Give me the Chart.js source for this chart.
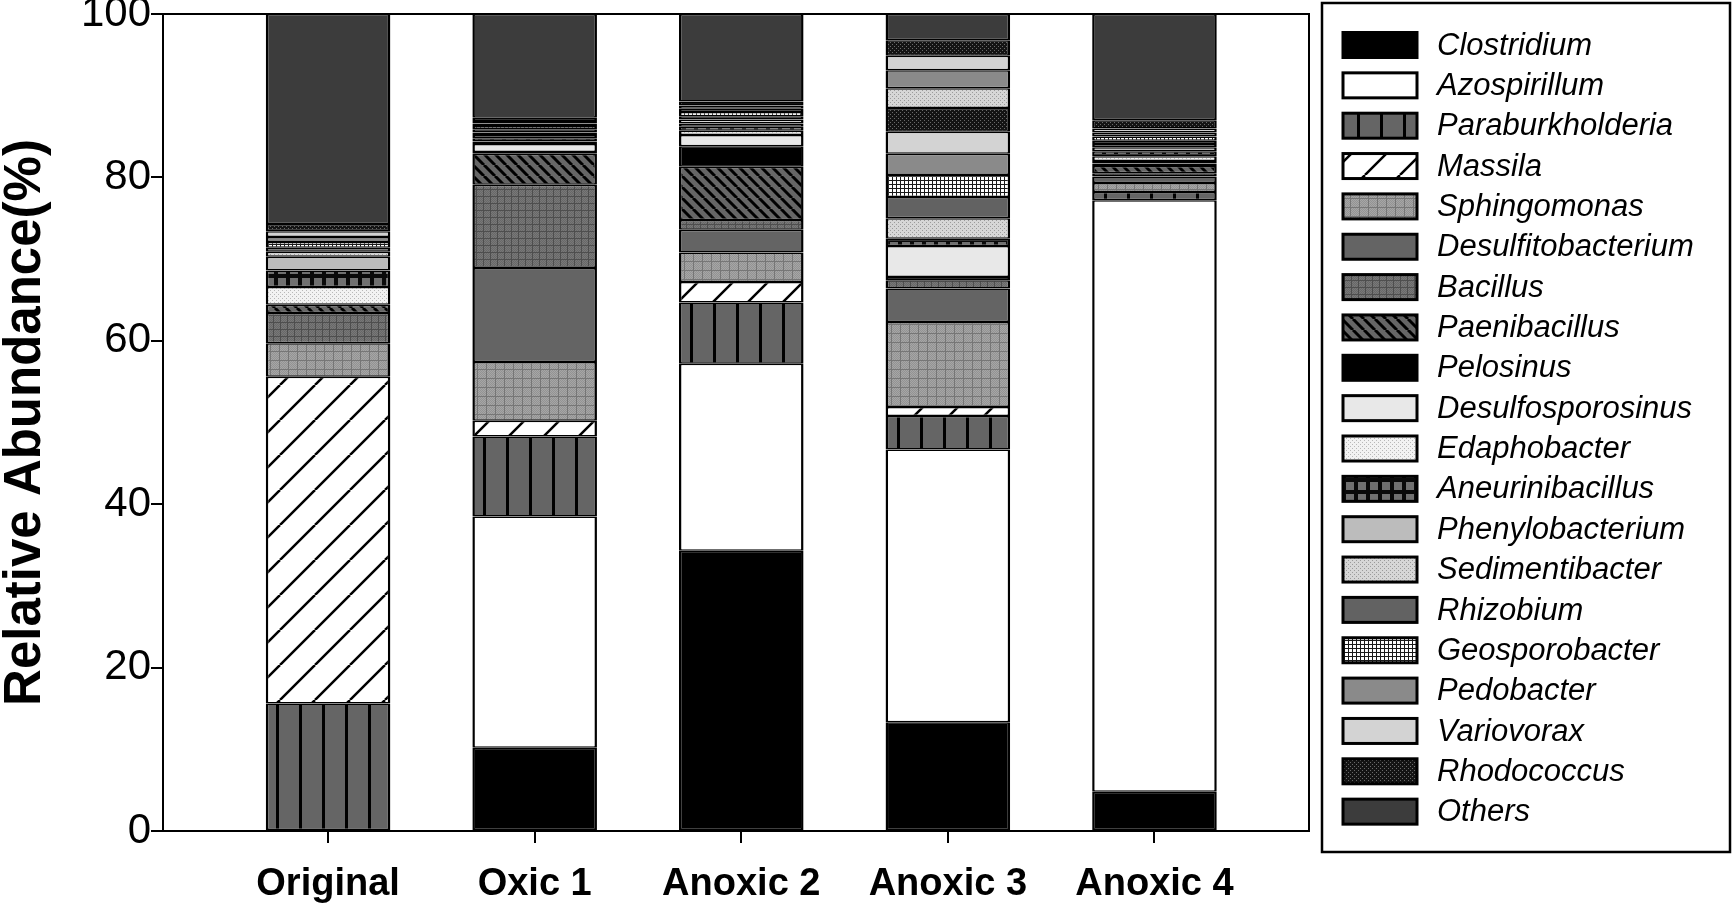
<!DOCTYPE html>
<html>
<head>
<meta charset="utf-8">
<script src="https://cdn.jsdelivr.net/npm/chart.js@4.4.1/dist/chart.umd.min.js"></script>
<style>
    html, body { margin: 0; padding: 0; background: #ffffff; }
</style>
</head>
<body>
<canvas id="graficoAbundancia" width="1732" height="904"></canvas>
<script>
// ==========================================
// 1. DATA (relative abundance, %)
// ==========================================

const samples = ["Original", "Oxic 1", "Anoxic 2", "Anoxic 3", "Anoxic 4"];
const samplePos = [1, 2, 3, 4, 5];
const yTickValues = [0, 20, 40, 60, 80, 100];

const clostridium = [0, 10.2, 34.3, 13.3, 4.8];
const azospirillum = [0, 28.3, 22.9, 33.4, 72.4];
const paraburkholderia = [15.6, 9.8, 7.5, 4.1, 1.0];
const massila = [40.0, 1.9, 2.5, 1.1, 0];
const sphingomonas = [4.1, 7.2, 3.6, 10.4, 1.1];
const desulfitobacterium = [0, 11.5, 2.8, 4.1, 0.8];
const bacillus = [3.7, 10.2, 1.2, 1.0, 0.4];
const paenibacillus = [1.0, 3.8, 6.5, 0, 0.9];
const pelosinus = [0, 0.2, 2.5, 0.4, 0.3];
const desulfosporosinus = [0, 1.0, 1.4, 3.8, 0.3];
const edaphobacter = [2.2, 0.3, 0.5, 0, 0.6];
const aneurinibacillus = [2.0, 0.4, 0.5, 0.9, 0.6];
const phenylobacterium = [1.7, 0.4, 0.4, 0, 0.5];
const sedimentibacter = [0.6, 0.3, 0.5, 2.5, 0.4];
const rhizobium = [0.5, 0.4, 0.4, 2.6, 0.4];
const geosporobacter = [0.7, 0.4, 0.5, 2.7, 0.5];
const pedobacter = [0.6, 0.3, 0.4, 2.6, 0.5];
const variovorax = [0.7, 0.3, 0.4, 2.7, 0.5];
const rhodococcus = [0.9, 0.4, 0.5, 2.9, 1.0];
// minor genera drawn in the bars but not named in the legend
const minorA = [0, 0, 0, 2.4, 0];
const minorB = [0, 0, 0, 2.2, 0];
const minorC = [0, 0, 0, 1.8, 0];
const minorD = [0, 0, 0, 1.9, 0];
const others = [25.7, 12.7, 10.7, 3.2, 13.0];

// ==========================================
// 2. FILL PATTERNS (greyscale, SigmaPlot style)
// ==========================================

function tile(w, h, draw) {
    const c = document.createElement("canvas");
    c.width = w;
    c.height = h;
    const g = c.getContext("2d");
    draw(g, w, h);
    return g.createPattern(c, "repeat");
}

function dots(bg, fg, n) {
    return tile(n, n, (g) => {
        g.fillStyle = bg;
        g.fillRect(0, 0, n, n);
        g.fillStyle = fg;
        g.fillRect(0, 0, 1, 1);
        g.fillRect(n / 2, n / 2, 1, 1);
    });
}

function plaid(bg, speck, line, n) {
    return tile(n, n, (g) => {
        g.fillStyle = bg;
        g.fillRect(0, 0, n, n);
        g.fillStyle = speck;
        for (let x = 0; x < n; x++) {
            for (let y = 0; y < n; y++) {
                if ((x + y) % 2 === 0) g.fillRect(x, y, 1, 1);
            }
        }
        g.fillStyle = line;
        g.fillRect(0, 0, 1, n);
        g.fillRect(0, 0, n, 1);
    });
}

function diagonal(bg, n, lw, rising) {
    return tile(n, n, (g) => {
        g.fillStyle = bg;
        g.fillRect(0, 0, n, n);
        g.strokeStyle = "#000000";
        g.lineWidth = lw;
        g.beginPath();
        [-n, 0, n].forEach((o) => {
            if (rising) {
                g.moveTo(o, n);
                g.lineTo(o + n, 0);
            } else {
                g.moveTo(o, 0);
                g.lineTo(o + n, n);
            }
        });
        g.stroke();
    });
}

const fillVertLines = tile(23, 4, (g) => {
    g.fillStyle = "#656565";
    g.fillRect(0, 0, 23, 4);
    g.fillStyle = "#000000";
    g.fillRect(0, 0, 3, 4);
});

const fillSquares = tile(12, 12, (g) => {
    g.fillStyle = "#0a0a0a";
    g.fillRect(0, 0, 12, 12);
    g.fillStyle = "#707070";
    g.fillRect(2, 2, 8, 8);
});

const fillGraph = tile(4, 4, (g) => {
    g.fillStyle = "#ffffff";
    g.fillRect(0, 0, 4, 4);
    g.fillStyle = "#1a1a1a";
    g.fillRect(0, 0, 4, 1);
    g.fillRect(0, 0, 1, 4);
});

const fillSedim = dots("#d6d6d6", "#9a9a9a", 4);
const fillRhodo = dots("#141414", "#6a6a6a", 4);

// [name, values, fill, shown in legend]
const seriesDefs = [
    ["Clostridium", clostridium, "#000000", true],
    ["Azospirillum", azospirillum, "#ffffff", true],
    ["Paraburkholderia", paraburkholderia, fillVertLines, true],
    ["Massila", massila, diagonal("#ffffff", 35, 2.5, true), true],
    ["Sphingomonas", sphingomonas, plaid("#a6a6a6", "#939393", "#767676", 9), true],
    ["Desulfitobacterium", desulfitobacterium, "#646464", true],
    ["Bacillus", bacillus, plaid("#787878", "#686868", "#4e4e4e", 7), true],
    ["Paenibacillus", paenibacillus, diagonal("#666666", 11, 3, false), true],
    ["Pelosinus", pelosinus, "#000000", true],
    ["Desulfosporosinus", desulfosporosinus, "#e8e8e8", true],
    ["Edaphobacter", edaphobacter, dots("#f2f2f2", "#b8b8b8", 4), true],
    ["Aneurinibacillus", aneurinibacillus, fillSquares, true],
    ["Phenylobacterium", phenylobacterium, "#bcbcbc", true],
    ["Sedimentibacter", sedimentibacter, fillSedim, true],
    ["Rhizobium", rhizobium, "#626262", true],
    ["Geosporobacter", geosporobacter, fillGraph, true],
    ["Pedobacter", pedobacter, "#8a8a8a", true],
    ["Variovorax", variovorax, "#d3d3d3", true],
    ["Rhodococcus", rhodococcus, fillRhodo, true],
    ["minor A", minorA, fillSedim, false],
    ["minor B", minorB, "#8a8a8a", false],
    ["minor C", minorC, "#d3d3d3", false],
    ["minor D", minorD, fillRhodo, false],
    ["Others", others, "#3c3c3c", true],
];

// ==========================================
// 3. PLUGINS (plot frame + boxed legend)
// ==========================================

const FONT = '"Liberation Sans", Arial, Helvetica, sans-serif';
const LEGEND = {
    x: 1322, y: 3, w: 408, h: 849,
    firstRow: 45, rowStep: 40.35,
    swatchX: 1343, swatchW: 74, swatchH: 25,
    textX: 1437,
};

const plotFrame = {
    id: "plotFrame",
    afterDatasetsDraw(chart) {
        const { ctx, chartArea: a } = chart;
        ctx.save();
        ctx.strokeStyle = "#000000";
        ctx.lineWidth = 2;
        ctx.strokeRect(a.left, a.top, a.right - a.left, a.bottom - a.top);
        ctx.restore();
    },
};

const boxedLegend = {
    id: "boxedLegend",
    afterDraw(chart) {
        const ctx = chart.ctx;
        ctx.save();
        ctx.strokeStyle = "#000000";
        ctx.lineWidth = 2.5;
        ctx.strokeRect(LEGEND.x, LEGEND.y, LEGEND.w, LEGEND.h);

        ctx.font = `italic 31px ${FONT}`;
        ctx.textBaseline = "middle";
        ctx.textAlign = "left";
        const items = chart.data.datasets.filter((ds) => ds.inLegend);
        items.forEach((ds, i) => {
            const cy = LEGEND.firstRow + i * LEGEND.rowStep;
            const top = cy - LEGEND.swatchH / 2;
            ctx.fillStyle = ds.backgroundColor;
            ctx.fillRect(LEGEND.swatchX, top, LEGEND.swatchW, LEGEND.swatchH);
            ctx.lineWidth = 3;
            ctx.strokeRect(LEGEND.swatchX, top, LEGEND.swatchW, LEGEND.swatchH);
            ctx.fillStyle = "#000000";
            ctx.fillText(ds.label, LEGEND.textX, cy + 1);
        });
        ctx.restore();
    },
};

// ==========================================
// 4. CHART
// ==========================================

Chart.defaults.font.family = FONT;
Chart.defaults.color = "#000000";

const datasets = seriesDefs.map(([name, values, fill, inLegend]) => ({
    label: name,
    data: values.map((v, i) => ({ x: samplePos[i], y: v })),
    backgroundColor: fill,
    borderColor: "#000000",
    borderWidth: { top: 1.5, bottom: 1.5, left: 2.5, right: 2.5 },
    borderSkipped: false,
    barPercentage: 0.603,
    categoryPercentage: 1.0,
    inLegend: inLegend,
}));

const ctx = document.getElementById("graficoAbundancia").getContext("2d");
const grafico = new Chart(ctx, {
    type: "bar",
    data: { datasets: datasets },
    options: {
        responsive: false,
        animation: false,
        layout: { padding: { top: 14, right: 423, bottom: 0, left: 0 } },
        plugins: {
            legend: { display: false },
            tooltip: { enabled: false },
        },
        scales: {
            x: {
                type: "linear",
                stacked: true,
                offset: false,
                min: 0.201,
                max: 5.748,
                afterFit: (scale) => { scale.height = 73; },
                afterBuildTicks: (scale) => {
                    scale.ticks = samplePos.map((p) => ({ value: p }));
                },
                ticks: {
                    autoSkip: false,
                    maxRotation: 0,
                    padding: 19,
                    font: { size: 38, weight: "bold" },
                    callback: (v) => samples[samplePos.indexOf(v)] ?? "",
                },
                grid: {
                    offset: false,
                    drawOnChartArea: false,
                    drawTicks: true,
                    tickLength: 12,
                    color: "#000000",
                    lineWidth: 2,
                },
                border: { display: false },
            },
            y: {
                stacked: true,
                min: 0,
                max: 100,
                afterFit: (scale) => { scale.width = 163; },
                afterBuildTicks: (scale) => {
                    scale.ticks = yTickValues.map((v) => ({ value: v }));
                },
                ticks: {
                    padding: 0,
                    font: { size: 42, lineHeight: 0.5 },
                },
                grid: {
                    drawOnChartArea: false,
                    drawTicks: true,
                    tickLength: 12,
                    color: "#000000",
                    lineWidth: 2,
                },
                border: { display: false },
                title: {
                    display: true,
                    text: "Relative Abundance(%)",
                    font: { size: 51, weight: "bold", lineHeight: 1 },
                    padding: 0,
                },
            },
        },
    },
    plugins: [plotFrame, boxedLegend],
});
</script>
</body>
</html>
